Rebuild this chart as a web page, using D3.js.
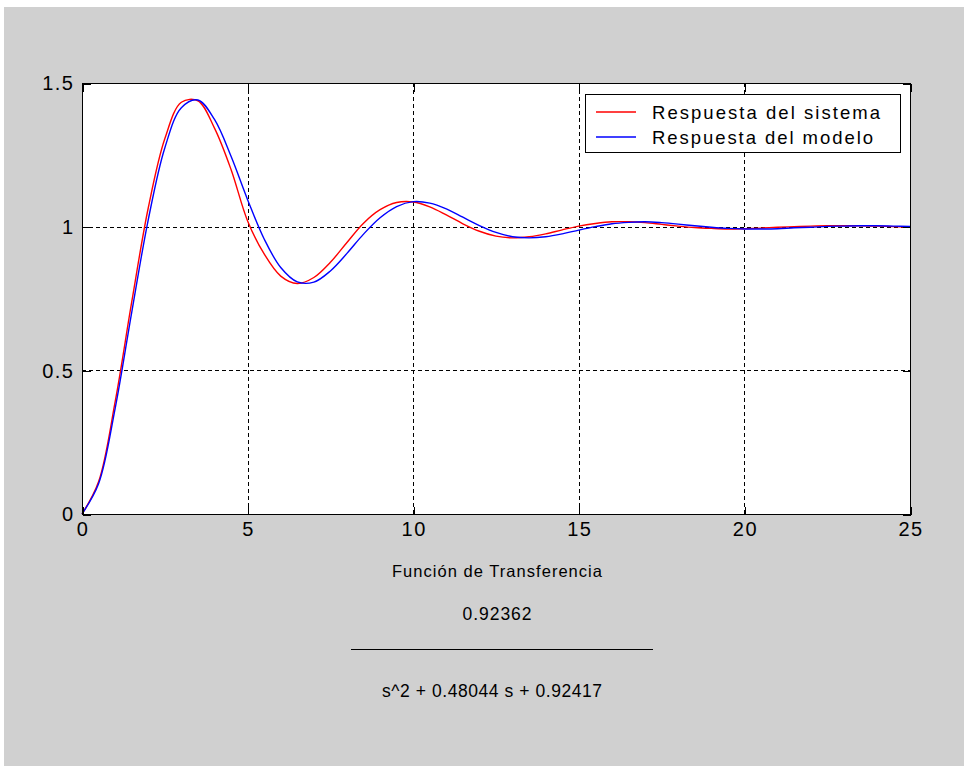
<!DOCTYPE html>
<html>
<head>
<meta charset="utf-8">
<script src="https://cdn.jsdelivr.net/npm/d3@7"></script>
<style>
  html, body { margin: 0; padding: 0; background: #ffffff; }
  svg { display: block; }
  text { font-family: "Liberation Sans", Arial, Helvetica, sans-serif; fill: #000; }
</style>
</head>
<body>
<svg id="chart" width="968" height="772"></svg>
<script>
// Step response: time samples (s)
const time = [0,0.5,1,1.5,2,2.5,3,3.5,4,4.5,5,5.5,6,6.5,7,7.5,8,8.5,9,9.5,10,
  10.5,11,11.5,12,12.5,13,13.5,14,14.5,15,15.5,16,16.5,17,17.5,18,18.5,19,19.5,20,
  20.5,21,21.5,22,22.5,23,23.5,24,24.5,25];

// Measured response of the system
const systemResp = [0,0.112,0.390,0.737,1.065,1.306,1.433,1.438,1.343,1.199,1.020,
  0.905,0.828,0.802,0.823,0.876,0.945,1.012,1.059,1.084,1.086,
  1.069,1.041,1.010,0.984,0.967,0.961,0.965,0.975,0.989,1.002,
  1.011,1.017,1.017,1.014,1.008,1.002,0.997,0.994,0.992,0.993,
  0.995,0.998,1.000,1.002,1.003,1.003,1.003,1.002,1.000,0.999];

// Response of the identified second-order model
const modelResp = [0,0.105,0.367,0.701,1.024,1.274,1.414,1.441,1.373,1.245,1.094,
  0.957,0.858,0.808,0.807,0.846,0.907,0.974,1.031,1.070,1.087,
  1.082,1.062,1.033,1.004,0.980,0.965,0.961,0.965,0.975,0.988,
  1.000,1.010,1.015,1.017,1.014,1.009,1.003,0.998,0.994,0.992,
  0.992,0.993,0.996,0.998,1.001,1.002,1.003,1.003,1.002,1.001];

const xTicks = [0, 5, 10, 15, 20, 25];
const yTicks = [0, 0.5, 1, 1.5];
const yTickLabels = ["0", "0.5", "1", "1.5"];

const seriesNames = ["Respuesta del sistema", "Respuesta del modelo"];
const seriesColors = ["#ff0000", "#0000ff"];

const caption = "Función de Transferencia";
const numerator = "0.92362";
const denominator = "s^2 + 0.48044 s + 0.92417";

const svg = d3.select("#chart");

// figure background
svg.append("rect")
  .attr("x", 4).attr("y", 7).attr("width", 960).attr("height", 759)
  .attr("fill", "#d0d0d0");

const plotL = 82, plotR = 910, plotT = 83, plotB = 514;
const x = d3.scaleLinear().domain([0, 25]).range([plotL, plotR]);
const y = d3.scaleLinear().domain([0, 1.5]).range([plotB, plotT]);

// plot area
svg.append("rect")
  .attr("x", plotL + 0.5).attr("y", plotT + 0.5)
  .attr("width", plotR - plotL).attr("height", plotB - plotT)
  .attr("fill", "#ffffff");

// dashed grid
const grid = svg.append("g").attr("stroke", "#000").attr("stroke-width", 1)
  .attr("stroke-dasharray", "4,3").attr("shape-rendering", "crispEdges");
grid.selectAll("line.gx").data(xTicks.slice(1, -1)).join("line")
  .attr("class", "gx")
  .attr("x1", d => Math.round(x(d)) + 0.5).attr("x2", d => Math.round(x(d)) + 0.5)
  .attr("y1", plotT).attr("y2", plotB);
grid.selectAll("line.gy").data(yTicks.slice(1, -1)).join("line")
  .attr("class", "gy")
  .attr("y1", d => Math.round(y(d)) + 0.5).attr("y2", d => Math.round(y(d)) + 0.5)
  .attr("x1", plotL).attr("x2", plotR);

// response curves
const series = [systemResp, modelResp];
const line = d3.line()
  .x((d, i) => x(time[i]))
  .y(d => y(d))
  .curve(d3.curveCatmullRom.alpha(0.5));

svg.append("g").selectAll("path").data(series).join("path")
  .attr("d", d => line(d))
  .attr("fill", "none")
  .attr("stroke", (d, i) => seriesColors[i])
  .attr("stroke-width", 1.4);

// axes with inward ticks on all four sides
const tickLen = 8;
const axisBottom = d3.axisBottom(x).tickValues(xTicks).tickSize(-tickLen).tickPadding(7)
  .tickFormat(d3.format("d"));
const axisTop = d3.axisTop(x).tickValues(xTicks).tickSize(-tickLen).tickFormat("");
const axisLeft = d3.axisLeft(y).tickValues(yTicks).tickSize(-tickLen).tickPadding(8)
  .tickFormat((d, i) => yTickLabels[i]);
const axisRight = d3.axisRight(y).tickValues(yTicks).tickSize(-tickLen).tickFormat("");

function styleAxis(g) {
  g.select(".domain").remove();
  g.selectAll(".tick line").attr("stroke", "#000").attr("shape-rendering", "crispEdges");
  g.selectAll(".tick text")
    .attr("font-family", "'Liberation Sans', Arial, sans-serif")
    .attr("font-size", 20).attr("fill", "#000")
    .style("letter-spacing", "1.5px");
}

svg.append("g").attr("transform", `translate(0.5,${plotB + 0.5})`).call(axisBottom).call(styleAxis);
svg.append("g").attr("transform", `translate(0.5,${plotT + 0.5})`).call(axisTop).call(styleAxis);
svg.append("g").attr("transform", `translate(${plotL + 0.5},0.5)`).call(axisLeft).call(styleAxis);
svg.append("g").attr("transform", `translate(${plotR + 0.5},0.5)`).call(axisRight).call(styleAxis);

// axes box
svg.append("rect")
  .attr("x", plotL + 0.5).attr("y", plotT + 0.5)
  .attr("width", plotR - plotL).attr("height", plotB - plotT)
  .attr("fill", "none").attr("stroke", "#000").attr("stroke-width", 1)
  .attr("shape-rendering", "crispEdges");

// legend
const legend = svg.append("g");
legend.append("rect")
  .attr("x", 585.5).attr("y", 94.5).attr("width", 315).attr("height", 58)
  .attr("fill", "#ffffff").attr("stroke", "#000").attr("stroke-width", 1)
  .attr("shape-rendering", "crispEdges");
const items = legend.selectAll("g.item").data(seriesNames).join("g")
  .attr("class", "item")
  .attr("transform", (d, i) => `translate(0,${112 + i * 25})`);
items.append("line")
  .attr("x1", 596).attr("x2", 636).attr("y1", 0).attr("y2", 0)
  .attr("stroke", (d, i) => seriesColors[i]).attr("stroke-width", 1.4);
items.append("text")
  .attr("x", 652).attr("y", 6.5)
  .attr("font-size", 18.5)
  .attr("textLength", (d, i) => i === 0 ? 228 : 221)
  .attr("lengthAdjust", "spacing")
  .text(d => d);

// transfer function caption below the axes
svg.append("text")
  .attr("x", 497).attr("y", 577).attr("text-anchor", "middle")
  .attr("font-size", 16.5).attr("textLength", 210).attr("lengthAdjust", "spacing")
  .text(caption);
svg.append("text")
  .attr("x", 497).attr("y", 620).attr("text-anchor", "middle")
  .attr("font-size", 17.5).attr("textLength", 69).attr("lengthAdjust", "spacing")
  .text(numerator);
svg.append("line")
  .attr("x1", 351).attr("x2", 653).attr("y1", 649.5).attr("y2", 649.5)
  .attr("stroke", "#000").attr("stroke-width", 1.2);
svg.append("text")
  .attr("x", 492).attr("y", 697).attr("text-anchor", "middle")
  .attr("font-size", 17.5).attr("textLength", 220).attr("lengthAdjust", "spacing")
  .text(denominator);
</script>
</body>
</html>
